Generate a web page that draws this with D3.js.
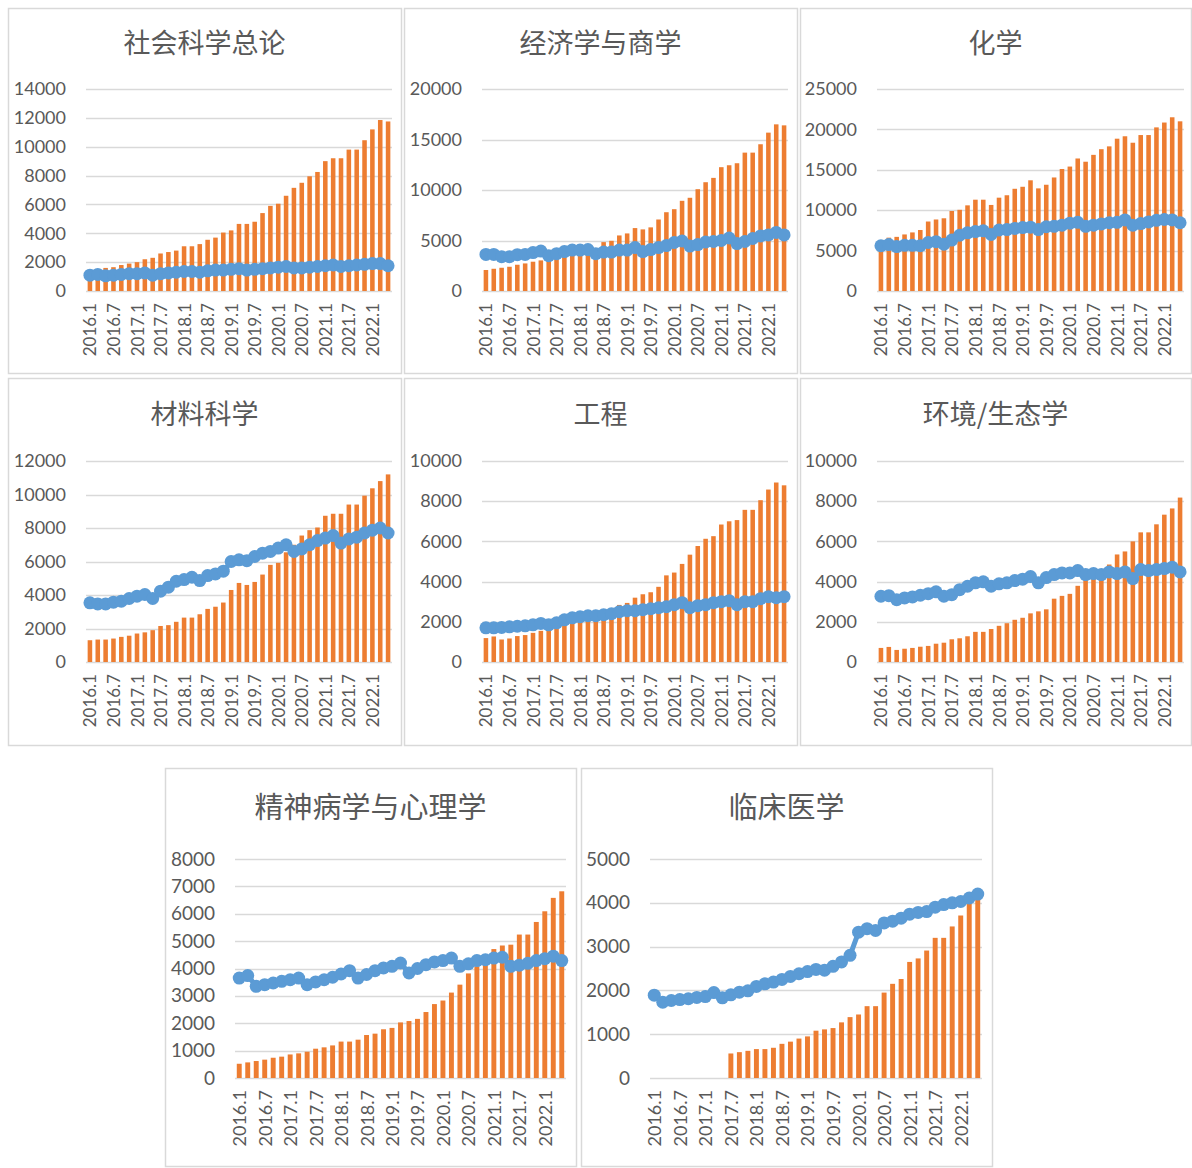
<!DOCTYPE html>
<html>
<head>
<meta charset="utf-8">
<script src="https://cdn.jsdelivr.net/npm/d3@7"></script>
<style>
  html, body { margin: 0; padding: 0; background: #ffffff; }
  svg { display: block; }
</style>
</head>
<body>
<svg id="chart" width="1192" height="1168"></svg>
<script>
// ---------------- DATA ----------------
const categories = [
  "2016.1","2016.3","2016.5","2016.7","2016.9","2016.11",
  "2017.1","2017.3","2017.5","2017.7","2017.9","2017.11",
  "2018.1","2018.3","2018.5","2018.7","2018.9","2018.11",
  "2019.1","2019.3","2019.5","2019.7","2019.9","2019.11",
  "2020.1","2020.3","2020.5","2020.7","2020.9","2020.11",
  "2021.1","2021.3","2021.5","2021.7","2021.9","2021.11",
  "2022.1","2022.3","2022.5"
];
const tickLabels = ["2016.1","2016.7","2017.1","2017.7","2018.1","2018.7","2019.1","2019.7","2020.1","2020.7","2021.1","2021.7","2022.1"];

const titles = ["社会科学总论","经济学与商学","化学","材料科学","工程","环境/生态学","精神病学与心理学","临床医学"];
const yMax   = [14000, 20000, 25000, 12000, 10000, 10000, 8000, 5000];
const yStep  = [2000, 5000, 5000, 2000, 2000, 2000, 1000, 1000];

const socialBars = [1400,1500,1600,1650,1800,1900,2000,2200,2300,2600,2700,2800,3100,3100,3250,3550,3700,4050,4200,4650,4650,4800,5400,5900,6050,6600,7150,7500,7950,8250,9000,9200,9200,9800,9800,10450,11200,11850,11750];
const socialLine = [1100,1150,1050,1100,1150,1200,1200,1250,1100,1200,1250,1300,1350,1350,1300,1400,1450,1450,1500,1550,1450,1500,1550,1600,1650,1700,1600,1600,1650,1700,1750,1800,1700,1750,1800,1850,1900,1900,1750];

const econBars = [2080,2200,2300,2400,2600,2730,2900,3030,3150,3300,3450,3600,3750,3850,3600,4840,4970,5500,5700,6230,6100,6300,7080,7800,8100,8930,9230,10080,10770,11200,12260,12450,12650,13700,13700,14530,15680,16500,16400];
const econLine = [3620,3620,3400,3400,3600,3620,3800,3950,3500,3700,3900,4050,4050,4100,3700,3850,3850,4050,4050,4300,3900,4100,4300,4500,4800,4950,4450,4600,4850,4900,5000,5250,4700,4900,5200,5450,5550,5800,5550];

const chemBars = [5900,6600,6700,7000,7250,7550,8600,8850,9000,9900,10050,10600,11300,11300,10650,11550,11850,12650,12900,13700,12700,13150,14050,15100,15400,16400,16000,16850,17550,17900,18850,19150,18350,19300,19300,20250,20850,21500,21000];
const chemLine = [5600,5750,5500,5650,5650,5600,6000,6100,5800,6300,6900,7200,7350,7450,7000,7550,7600,7750,7850,7900,7600,7950,8000,8150,8400,8500,8000,8150,8300,8450,8500,8800,8150,8350,8550,8750,8850,8800,8450];

const matBars = [1300,1340,1340,1400,1500,1570,1700,1770,1900,2150,2200,2400,2650,2650,2850,3170,3300,3550,4300,4720,4600,4780,5220,5800,5920,6550,7000,7550,7870,8030,8730,8850,8850,9400,9400,9930,10370,10800,11200];
const matLine = [3530,3470,3470,3570,3630,3790,3930,4030,3790,4230,4470,4820,4920,5060,4860,5160,5260,5420,6000,6100,6050,6300,6500,6600,6800,7000,6600,6750,7000,7250,7400,7550,7100,7350,7450,7700,7870,8000,7700];

const engBars = [1190,1270,1120,1170,1290,1340,1450,1550,1650,1750,1850,1950,2050,2100,2100,2300,2450,2840,2940,3200,3370,3470,3740,4310,4450,4880,5340,5770,6130,6260,6840,7000,7060,7570,7570,8050,8580,8930,8790];
const engLine = [1700,1700,1720,1750,1780,1800,1850,1920,1850,1950,2100,2200,2250,2300,2300,2350,2400,2500,2550,2550,2600,2650,2700,2750,2850,2950,2700,2800,2850,2950,3000,3050,2850,3000,3000,3150,3250,3200,3250];

const envBars = [700,750,600,660,700,760,800,910,960,1130,1180,1280,1500,1500,1640,1800,1930,2100,2200,2420,2520,2620,3150,3290,3390,3790,4150,4300,4450,4850,5350,5500,6000,6450,6450,6850,7330,7640,8180];
const envLine = [3270,3300,3100,3190,3240,3320,3400,3490,3270,3350,3600,3770,3940,3990,3770,3890,3940,4050,4120,4250,3940,4200,4350,4430,4430,4550,4350,4400,4350,4480,4400,4480,4150,4600,4550,4600,4650,4720,4480];

const psyBars = [520,570,620,670,740,780,860,900,960,1070,1120,1190,1330,1330,1400,1570,1620,1780,1830,2030,2080,2160,2410,2700,2830,3120,3410,3820,4080,4350,4710,4840,4870,5240,5240,5700,6090,6580,6820];
const psyLine = [3650,3740,3350,3410,3470,3530,3590,3650,3410,3510,3590,3680,3800,3920,3650,3780,3920,4020,4080,4200,3840,4000,4140,4240,4290,4380,4080,4170,4290,4320,4380,4410,4080,4120,4190,4290,4360,4450,4290];

const clinBars = [null,null,null,null,null,null,null,null,null,560,590,620,660,660,690,780,830,900,950,1080,1110,1140,1270,1390,1450,1640,1640,1950,2150,2260,2650,2730,2910,3200,3200,3460,3710,4000,4100];
const clinLine = [1890,1730,1770,1790,1810,1840,1860,1950,1830,1900,1960,1990,2090,2150,2190,2250,2320,2380,2430,2480,2460,2550,2650,2800,3330,3410,3370,3540,3580,3650,3740,3780,3800,3900,3960,4000,4030,4110,4200];

const barSeries  = [socialBars, econBars, chemBars, matBars, engBars, envBars, psyBars, clinBars];
const lineSeries = [socialLine, econLine, chemLine, matLine, engLine, envLine, psyLine, clinLine];

// ---------------- LAYOUT ----------------
const layout = [
  {box:[8,8,393,365],    plot:[86,392,89,291],    titleY:41,  tfs:27, lfs:18, cfs:17},
  {box:[404,8,393,365],  plot:[482,788,89,291],   titleY:41,  tfs:27, lfs:18, cfs:17},
  {box:[800,8,391,365],  plot:[877,1184,89,291],  titleY:41,  tfs:27, lfs:18, cfs:17},
  {box:[8,378,393,367],  plot:[86,392,461,662],   titleY:412, tfs:27, lfs:18, cfs:17},
  {box:[404,378,393,367],plot:[482,788,461,662],  titleY:412, tfs:27, lfs:18, cfs:17},
  {box:[800,378,391,367],plot:[877,1184,461,662], titleY:412, tfs:27, lfs:18, cfs:17},
  {box:[165,768,411,398],plot:[235,566,859,1078], titleY:805, tfs:29, lfs:19, cfs:18},
  {box:[581,768,411,398],plot:[650,982,859,1078], titleY:805, tfs:29, lfs:19, cfs:18}
];

const ORANGE = "#ED7D31", BLUE = "#5B9BD5", GRID = "#D9D9D9", TEXT = "#595959";
const svg = d3.select("#chart");

layout.forEach((L, i) => {
  const g = svg.append("g");
  const [bx, by, bw, bh] = L.box;
  g.append("rect").attr("x", bx + 0.5).attr("y", by + 0.5).attr("width", bw).attr("height", bh)
    .attr("fill", "#fff").attr("stroke", GRID).attr("stroke-width", 1.5);

  const [x0, x1, yT, yB] = L.plot;
  const x = d3.scaleBand().domain(categories).range([x0, x1]).paddingInner(0.42).paddingOuter(0.21);
  const y = d3.scaleLinear().domain([0, yMax[i]]).range([yB, yT]);
  const ticks = d3.range(0, yMax[i] + 1, yStep[i]);

  // title
  g.append("text").attr("x", bx + bw / 2).attr("y", L.titleY)
    .attr("text-anchor", "middle").attr("dominant-baseline", "central")
    .attr("font-family", "'Noto Sans CJK SC', sans-serif").attr("font-size", L.tfs)
    .attr("fill", TEXT).text(titles[i]);

  // gridlines
  g.append("g").selectAll("line").data(ticks).join("line")
    .attr("x1", x0).attr("x2", x1)
    .attr("y1", d => Math.round(y(d)) + 0.5).attr("y2", d => Math.round(y(d)) + 0.5)
    .attr("stroke", GRID).attr("stroke-width", 1.3);

  // y axis labels
  const yAxis = d3.axisLeft(y).tickValues(ticks).tickSize(0).tickPadding(20).tickFormat(d3.format("d"));
  const ya = g.append("g").attr("transform", `translate(${x0},0)`).call(yAxis);
  ya.select(".domain").remove();
  ya.selectAll("text").attr("font-family", "Lato, 'Open Sans', sans-serif")
    .attr("font-size", L.lfs).attr("fill", TEXT);

  // bars
  const bars = barSeries[i];
  g.append("g").selectAll("rect")
    .data(categories.map((c, k) => ({c, v: bars[k]})).filter(d => d.v != null))
    .join("rect")
    .attr("x", d => x(d.c)).attr("width", x.bandwidth())
    .attr("y", d => y(d.v)).attr("height", d => y(0) - y(d.v))
    .attr("fill", ORANGE);

  // x axis labels
  const xAxis = d3.axisBottom(x).tickValues(tickLabels).tickSize(0).tickPadding(0);
  const xa = g.append("g").attr("transform", `translate(0,${yB})`).call(xAxis);
  xa.select(".domain").remove();
  xa.selectAll("text")
    .attr("font-family", "Lato, 'Open Sans', sans-serif").attr("font-size", L.cfs).attr("fill", TEXT)
    .attr("text-anchor", "end").attr("dominant-baseline", "central")
    .attr("dy", null).attr("y", 0)
    .attr("transform", "translate(0,12) rotate(-90)");

  // line + markers
  const pts = lineSeries[i].map((v, k) => ({c: categories[k], v}));
  const line = d3.line().x(d => x(d.c) + x.bandwidth() / 2).y(d => y(d.v));
  g.append("path").datum(pts).attr("d", line)
    .attr("fill", "none").attr("stroke", BLUE).attr("stroke-width", 5).attr("stroke-linejoin", "round");
  g.append("g").selectAll("circle").data(pts).join("circle")
    .attr("cx", d => x(d.c) + x.bandwidth() / 2).attr("cy", d => y(d.v)).attr("r", 6.5)
    .attr("fill", BLUE);
});
</script>
</body>
</html>
